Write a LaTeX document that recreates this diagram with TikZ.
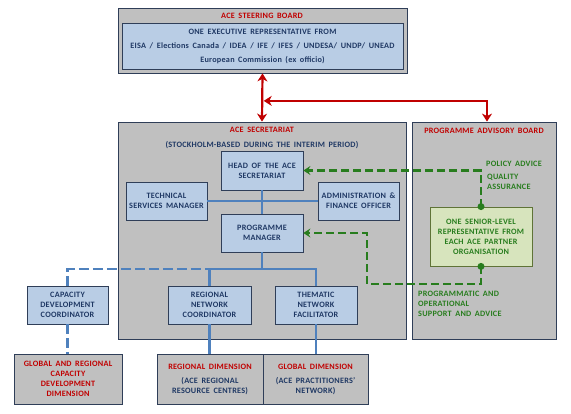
\documentclass[tikz,border=0pt]{standalone}
\usepackage{fontspec}
\setmainfont{Carlito}[LetterSpace=3, WordSpace=1.7]
\usetikzlibrary{arrows.meta, positioning, calc}
\usepackage{xcolor}
\definecolor{panel}{RGB}{192, 192, 192}
\definecolor{boxblue}{RGB}{185, 205, 229}
\definecolor{edge}{RGB}{47, 62, 88}
\definecolor{navy}{RGB}{31, 56, 100}
\definecolor{boardred}{RGB}{192, 0, 0}
\definecolor{advice}{RGB}{40, 125, 30}
\definecolor{paleg}{RGB}{215, 228, 189}
\definecolor{olive}{RGB}{95, 115, 55}
\definecolor{link}{RGB}{79, 129, 189}

\begin{document}
\begin{tikzpicture}[
    x=1pt, y=-1pt,
    font=\fontsize{8.2}{10}\selectfont\bfseries,
    panelbox/.style={rectangle, draw=edge, line width=0.8pt, fill=panel, inner sep=0pt},
    box/.style={rectangle, draw=edge, line width=0.8pt, fill=boxblue, align=center, text=navy, inner sep=0pt, minimum height=38pt},
    dimbox/.style={rectangle, draw=edge, line width=0.8pt, fill=panel, align=center, text=navy, inner sep=0pt, minimum height=50pt},
    heading/.style={text=boardred, inner sep=0pt},
    note/.style={text=advice, align=left, inner sep=0pt, anchor=west},
    redarrow/.style={draw=boardred, line width=2.2pt, >={Stealth[length=8pt, width=10pt, inset=2.5pt]}, <->},
    greenlink/.style={draw=advice, line width=2.2pt, dash pattern=on 8pt off 4pt, -{Stealth[length=7pt, width=9pt, inset=2.5pt]}},
    bus/.style={draw=link, line width=2.4pt},
    dashbus/.style={bus, dash pattern=on 10pt off 4pt}
]
\useasboundingbox (0,0) rectangle (571,413);

% Steering board
\node[panelbox, minimum width=289pt, minimum height=65pt] (steer) at (262.5,40.5) {};
\node[heading] (steertitle) at (262,16) {ACE STEERING BOARD};
\node[box, minimum width=281pt, minimum height=46pt, font=\fontsize{8.2}{14}\selectfont\bfseries] (members) at (262.5,46)
    {ONE EXECUTIVE REPRESENTATIVE FROM\\EISA / Elections Canada / IDEA / IFE / IFES / UNDESA/ UNDP/ UNEAD\\European Commission (ex officio)};

% Secretariat
\node[panelbox, minimum width=288pt, minimum height=217pt] (sec) at (262,230.5) {};
\node[heading] (sectitle) at (262,130) {ACE SECRETARIAT};
\node[text=navy, inner sep=0pt] (secnote) at (262,145) {(STOCKHOLM-BASED DURING THE INTERIM PERIOD)};

\node[box, minimum width=82pt, minimum height=39pt] (head) at (262,170.5) {HEAD OF THE ACE\\SECRETARIAT};
\node[box, minimum width=81pt] (tech) at (166.5,201) {TECHNICAL\\SERVICES MANAGER};
\node[box, minimum width=81pt] (admin) at (358.5,201) {ADMINISTRATION \&\\FINANCE OFFICER};
\node[box, minimum width=82pt] (pm) at (262,233) {PROGRAMME\\MANAGER};

\node[box, minimum width=81pt] (cdc) at (67.5,305) {CAPACITY\\DEVELOPMENT\\COORDINATOR};
\node[box, minimum width=83pt] (rnc) at (209.5,305) {REGIONAL\\NETWORK\\COORDINATOR};
\node[box, minimum width=82pt] (tnf) at (316,305) {THEMATIC\\NETWORK\\FACILITATOR};

% Dimensions
\node[dimbox, minimum width=108pt, text=boardred] (grcd) at (68,379) {GLOBAL AND REGIONAL\\CAPACITY\\DEVELOPMENT\\DIMENSION};
\node[dimbox, minimum width=106pt] (regdim) at (210,379) {\textcolor{boardred}{REGIONAL DIMENSION}\\[4pt](ACE REGIONAL\\RESOURCE CENTRES)};
\node[dimbox, minimum width=105pt] (globdim) at (315.5,379) {\textcolor{boardred}{GLOBAL DIMENSION}\\[4pt](ACE PRACTITIONERS'\\NETWORK)};

% Programme advisory board
\node[panelbox, minimum width=144pt, minimum height=217pt] (pab) at (484,230.5) {};
\node[heading] (pabtitle) at (484,131) {PROGRAMME ADVISORY BOARD};
\node[rectangle, draw=olive, line width=0.8pt, fill=paleg, text=advice, align=center, minimum width=102pt, minimum height=59pt, inner sep=0pt] (rep) at (481,236.5)
    {ONE SENIOR-LEVEL\\REPRESENTATIVE FROM\\EACH ACE PARTNER\\ORGANISATION};
\node[note] (policy) at (486,164) {POLICY ADVICE};
\node[note] (quality) at (487,182) {QUALITY\\ASSURANCE};
\node[note] (support) at (418,304) {PROGRAMMATIC AND\\OPERATIONAL\\SUPPORT AND ADVICE};

% Red arrows
\coordinate (split) at ($(steer.south)!0.57!(sec.north)$);
\draw[redarrow] (steer.south) -- (sec.north);
\draw[redarrow] ([xshift=1.5pt]split) -| ([xshift=3pt]pab.north);

% Blue lines
\coordinate (hub) at (262,269);
\draw[bus] (tech.east) -- (admin.west);
\draw[bus] (head.south) -- (pm.north);
\draw[bus] (pm.south) -- (hub);
\draw[bus] (rnc.north) |- (hub) -| (tnf.north);
\draw[dashbus] (cdc.north) |- (rnc.north |- hub);
\draw[dashbus] (cdc.south) -- (cdc.south |- grcd.north);
\draw[bus] (rnc.south) -- (rnc.south |- regdim.north);
\draw[bus] (tnf.south) -- (tnf.south |- globdim.north);

% Green links
\coordinate (turn) at (367,284);
\draw[greenlink] (rep.north) |- (head.east);
\draw[greenlink] (rep.south) |- (turn) |- (pm.east);
\fill[advice] (rep.north) circle (3.5pt);
\fill[advice] (rep.south) circle (3.5pt);

\end{tikzpicture}
\end{document}
